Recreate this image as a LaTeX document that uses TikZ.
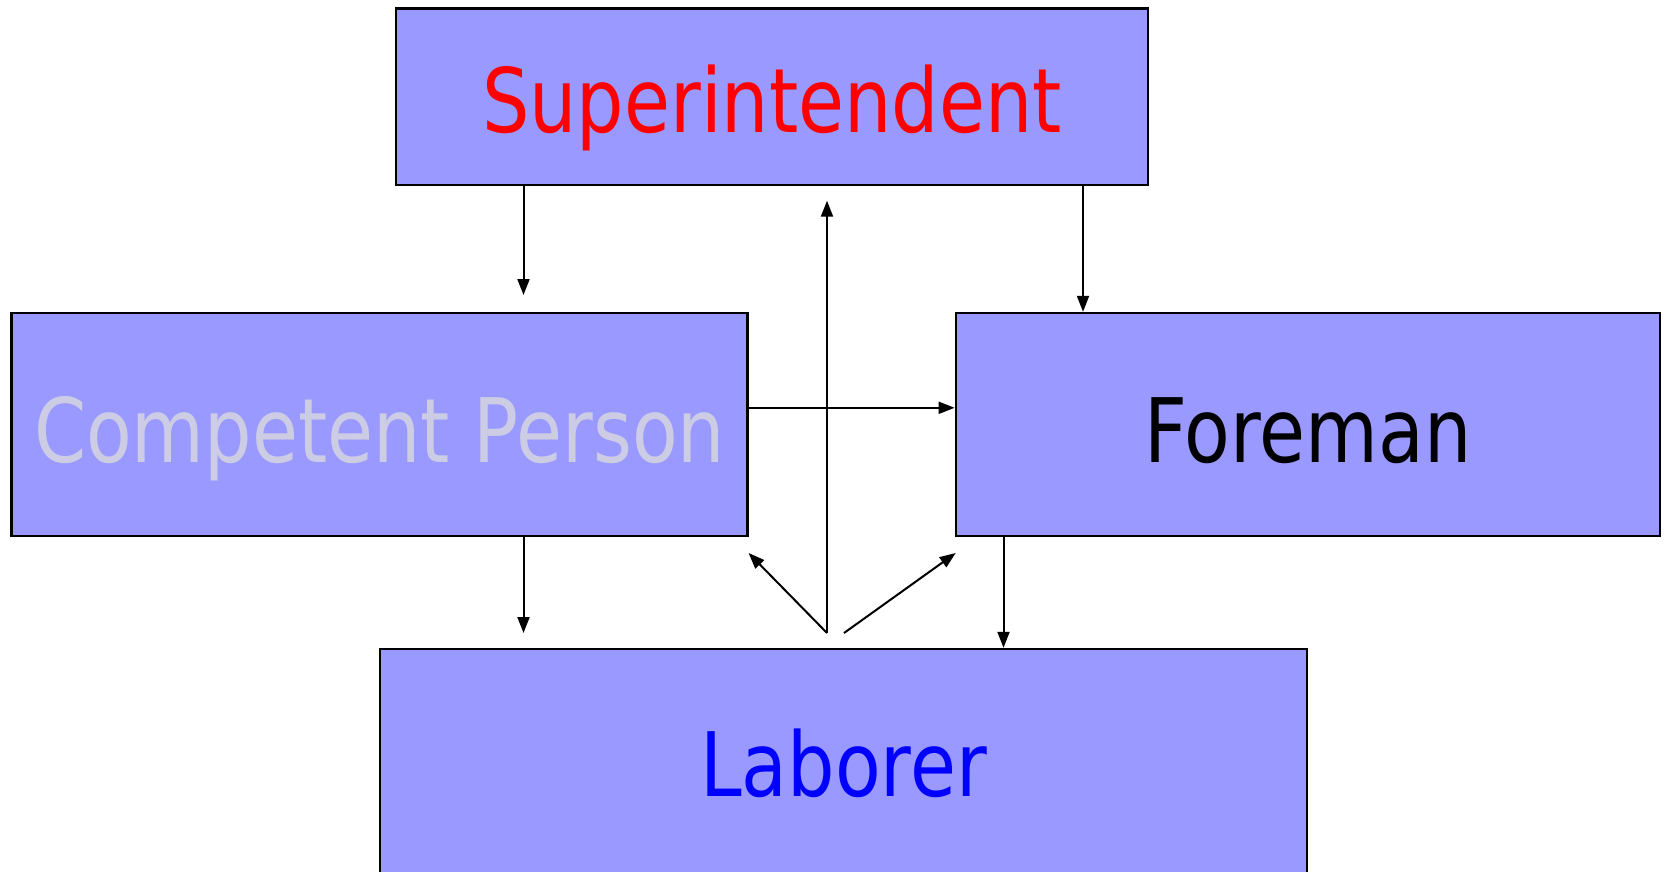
\documentclass[tikz,border=0pt]{standalone}
\usepackage{fontspec}
\setmainfont{DejaVu Sans}[FakeStretch=0.84]
\usetikzlibrary{arrows.meta}
\definecolor{boxfill}{HTML}{9999FF}
\definecolor{cptext}{HTML}{CCCCE4}
\tikzset{
  orgbox/.style={draw=black, line width=2.4pt, fill=boxfill, rectangle, inner sep=0pt, font=\fontsize{89}{100}\selectfont, text depth=0pt},
  conn/.style={line width=2pt, -{Triangle[length=16pt,width=12pt]}}
}
\begin{document}
\begin{tikzpicture}[x=1pt,y=-1pt]
\useasboundingbox (0,0) rectangle (1665,871);
\node[orgbox, minimum width=752pt, minimum height=176.5pt, text height=70.5pt, text=red] (super) at (772,96.75) {Superintendent};
\node[orgbox, minimum width=736pt, minimum height=223pt, text height=76pt, text=cptext] (cp) at (379.6,424.5) {Competent Person};
\node[orgbox, minimum width=704pt, minimum height=223pt, text height=76pt, text=black] (fore) at (1307.8,424.5) {Foreman};
\node[orgbox, minimum width=927pt, minimum height=231pt, text height=63pt, text=blue] (lab) at (843.5,764.5) {Laborer};
\coordinate (xa) at (523.5,0);
\coordinate (xb) at (1083,0);
\coordinate (xc) at (1003.5,0);
\coordinate (yh) at (0,407.8);
\coordinate (a1) at (523.5,295);
\coordinate (a5) at (523.5,633);
\coordinate (hub) at (827,633);
\coordinate (hub2) at (844,633);
\coordinate (up) at (827,200.7);
\coordinate (dl) at (748.6,553);
\coordinate (dr) at (955.7,553);
\draw[conn] (super.south -| xa) -- (a1);
\draw[conn] (super.south -| xb) -- (fore.north -| xb);
\draw[conn] (cp.east |- yh) -- (fore.west |- yh);
\draw[conn] (hub) -- (up);
\draw[conn] (cp.south -| xa) -- (a5);
\draw[conn] (fore.south -| xc) -- (lab.north -| xc);
\draw[conn] (hub) -- (dl);
\draw[conn] (hub2) -- (dr);
\end{tikzpicture}
\end{document}
